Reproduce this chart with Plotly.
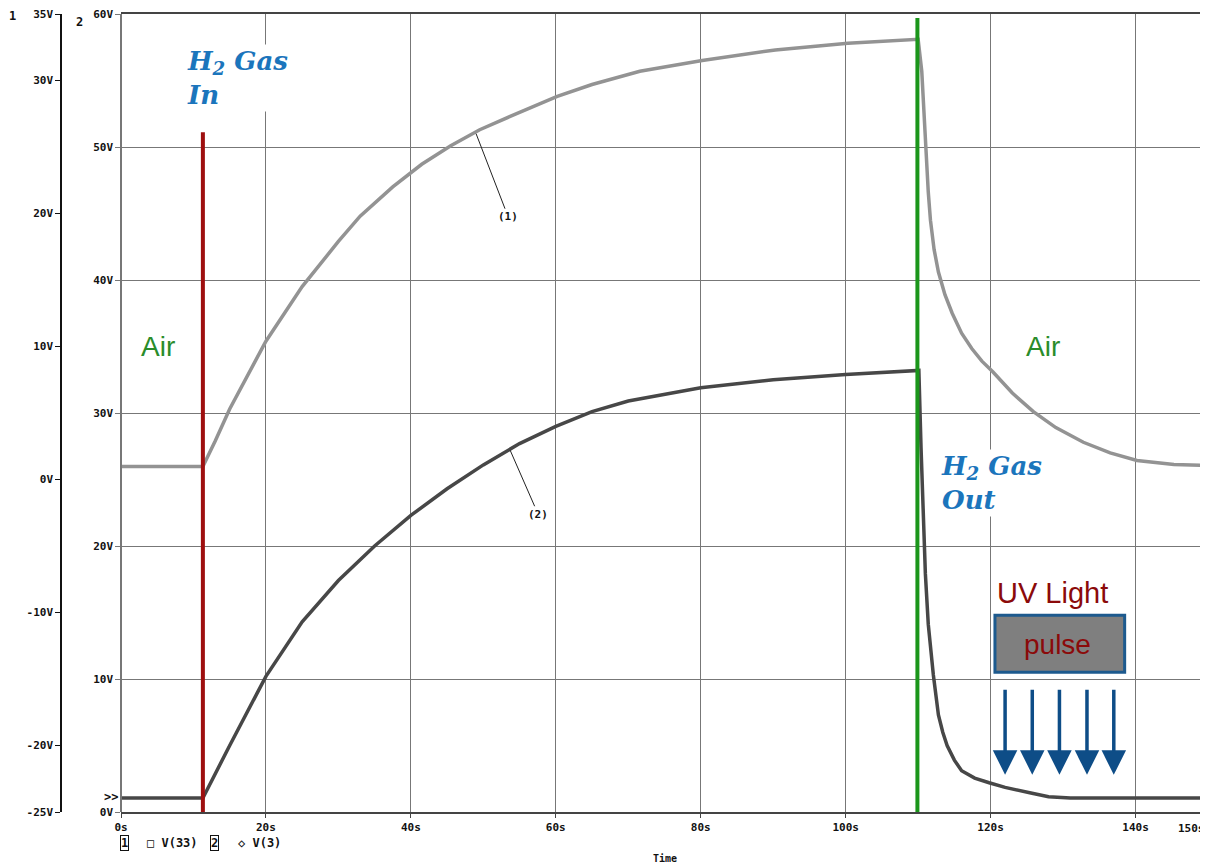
import plotly.graph_objects as go

# ---------------- data ----------------
# Trace 1 : V(33) on axis 1 (outer axis, -25 V .. 35 V)
T_V33 = [0, 11.3, 13.0, 15.0, 20.0, 25.0, 30.0, 33.0, 37.5, 41.5, 45.5, 49.5, 53.7, 60.2, 65.0,
         71.6, 80.2, 90.3, 100.3, 110.0, 110.5, 111.0, 111.4, 111.7, 112.2, 112.8, 113.7, 114.7,
         116.0, 117.4, 118.8, 120.3, 123.0, 125.9, 129.0, 132.8, 136.5, 140.2, 145.3, 150.0]
V33 = [0.98, 0.98, 2.9, 5.3, 10.4, 14.5, 17.9, 19.8, 22.0, 23.7, 25.1, 26.3, 27.3, 28.8, 29.7,
       30.7, 31.5, 32.3, 32.8, 33.1, 30.7, 25.0, 21.6, 19.5, 17.3, 15.6, 13.9, 12.5,
       11.0, 9.85, 8.9, 8.1, 6.5, 5.1, 3.9, 2.8, 2.0, 1.43, 1.13, 1.05]

# Trace 2 : V(3) on axis 2 (inner axis, 0 V .. 60 V)
T_V3 = [0, 11.3, 15, 20, 25, 30, 35, 40, 45, 50, 55, 60, 65, 70, 80, 90, 100, 110.1, 110.4,
        110.7, 111.0, 111.4, 112.1, 112.8, 113.4, 114.0, 115.0, 116.0, 117.8, 119.8, 122.0,
        125.4, 128.0, 131.0, 150]
V3 = [1.05, 1.05, 5.0, 10.2, 14.3, 17.4, 20.0, 22.3, 24.3, 26.1, 27.7, 29.0, 30.1, 30.9, 31.9,
      32.5, 32.9, 33.2, 27.4, 21.65, 17.9, 14.1, 10.3, 7.3, 6.0, 5.0, 3.9, 3.1, 2.55, 2.2, 1.85,
      1.45, 1.15, 1.05, 1.05]

TRACE_NAMES = ["V(33)", "V(3)"]

X_TICKS = [0, 20, 40, 60, 80, 100, 120, 140]
X_TICK_LABELS = ["0s", "20s", "40s", "60s", "80s", "100s", "120s", "140s"]
X_END_LABEL = "150s"

AX2_TICKS = [0, 10, 20, 30, 40, 50, 60]
AX2_LABELS = ["0V", "10V", "20V", "30V", "40V", "50V", "60V"]
AX1_TICKS = [-25, -20, -10, 0, 10, 20, 30, 35]
AX1_LABELS = ["-25V", "-20V", "-10V", "0V", "10V", "20V", "30V", "35V"]

H2_IN_TIME = 11.3
H2_OUT_TIME = 109.9
UV_ARROW_TIMES = [122.0, 125.75, 129.5, 133.3, 137.0]

# ---------------- geometry (page pixels; the page body has an 8px margin) ----------------
OFF = 8
W, H = 1208 - OFF, 863 - OFF
PLOT_TOP, PLOT_BOTTOM = 14, 812     # page pixels
X0_PIX = 121                         # page pixel of inner axis


def px(x):
    return (x - OFF) / W


def py(y):
    return (PLOT_BOTTOM - y) / (PLOT_BOTTOM - PLOT_TOP)


TICK_FONT = dict(family="DejaVu Sans Mono", size=11, color="#111", weight="bold")
BLUE_T = "#1b75bc"
GREEN_T = "#2a8c2a"
RED_T = "#8b0a0a"

fig = go.Figure()
fig.add_trace(go.Scatter(x=T_V33, y=V33, yaxis="y2", mode="lines", name=TRACE_NAMES[0],
                         line=dict(color="#939393", width=3.5)))
fig.add_trace(go.Scatter(x=T_V3, y=V3, yaxis="y", mode="lines", name=TRACE_NAMES[1],
                         line=dict(color="#474747", width=3.5)))

fig.update_layout(
    width=W, height=H,
    margin=dict(l=0, r=0, t=PLOT_TOP - OFF, b=H - (PLOT_BOTTOM - OFF), pad=0, autoexpand=False),
    paper_bgcolor="white", plot_bgcolor="white",
    showlegend=False,
    xaxis=dict(domain=[px(X0_PIX), 1], range=[0, 150], tickvals=X_TICKS, ticktext=X_TICK_LABELS,
               showgrid=True, gridcolor="#777", gridwidth=1, zeroline=False, automargin=False,
               showline=True, linecolor="#444", linewidth=1.5, mirror=True,
               ticks="outside", ticklen=4, tickcolor="#444", tickfont=TICK_FONT,
               ticklabeloverflow="allow"),
    yaxis=dict(range=[0, 60], tickvals=AX2_TICKS, ticktext=AX2_LABELS, anchor="free",
               position=px(X0_PIX), showgrid=True, gridcolor="#777", gridwidth=1, zeroline=False,
               automargin=False, ticklabeloverflow="allow",
               showline=True, linecolor="#777", linewidth=1.5, ticks="outside", ticklen=5,
               tickcolor="#777", tickfont=TICK_FONT),
    yaxis2=dict(range=[-25, 35], tickvals=AX1_TICKS, ticktext=AX1_LABELS, anchor="free",
                overlaying="y", side="left", position=px(61), showgrid=False, zeroline=False,
                automargin=False, ticklabeloverflow="allow",
                showline=True, linecolor="#111", linewidth=1.5, ticks="outside", ticklen=5,
                tickcolor="#111", tickfont=TICK_FONT),
)

# event lines
fig.add_shape(type="line", x0=H2_IN_TIME, x1=H2_IN_TIME, y0=0, y1=51.1, xref="x", yref="y",
              line=dict(color="#9e0f0f", width=4))
fig.add_shape(type="line", x0=H2_OUT_TIME, x1=H2_OUT_TIME, y0=0, y1=59.7, xref="x", yref="y",
              line=dict(color="#1b961b", width=4))

ann = []
# H2 gas labels
h2_font = dict(family="DejaVu Serif", size=26, color=BLUE_T)
ann.append(dict(x=8.8, y=55.2, xref="x", yref="y", xanchor="left", yanchor="middle", align="left",
                text="<b><i>H<sub>2</sub> Gas<br>In</i></b>", showarrow=False, font=h2_font,
                bgcolor="white"))
ann.append(dict(x=112.9, y=24.7, xref="x", yref="y", xanchor="left", yanchor="middle", align="left",
                text="<b><i>H<sub>2</sub> Gas<br>Out</i></b>", showarrow=False, font=h2_font,
                bgcolor="white"))
# Air labels
air_font = dict(family="Liberation Sans", size=28, color=GREEN_T)
ann.append(dict(x=5.1, y=35.0, xref="x", yref="y", text="Air", showarrow=False, font=air_font))
ann.append(dict(x=127.2, y=35.0, xref="x", yref="y", text="Air", showarrow=False, font=air_font))

# UV light pulse box
fig.add_shape(type="rect", x0=120.6, x1=138.5, y0=10.5, y1=14.8, xref="x", yref="y",
              fillcolor="#7f7f7f", line=dict(color="#1d5a8e", width=3))
ann.append(dict(x=128.6, y=16.5, xref="x", yref="y", text="UV Light", showarrow=False,
                font=dict(family="Liberation Sans", size=29, color=RED_T)))
ann.append(dict(x=129.3, y=12.6, xref="x", yref="y", text="pulse", showarrow=False,
                font=dict(family="Liberation Sans", size=28, color=RED_T)))
for t in UV_ARROW_TIMES:
    ann.append(dict(x=t, y=2.8, xref="x", yref="y", ax=t, ay=9.3, axref="x", ayref="y",
                    text="", showarrow=True, arrowhead=2, arrowsize=1.4, arrowwidth=3.5,
                    arrowcolor="#0e4d87"))

# curve labels
lab_font = dict(family="DejaVu Sans Mono", size=11, color="#111", weight="bold")
ann.append(dict(x=49.0, y=26.0, xref="x", yref="y2", ax=32, ay=83, text="(1)", showarrow=True,
                arrowhead=0, arrowwidth=1, arrowcolor="#222", font=lab_font, standoff=0))
ann.append(dict(x=53.7, y=27.2, xref="x", yref="y", ax=28, ay=64, text="(2)", showarrow=True,
                arrowhead=0, arrowwidth=1, arrowcolor="#222", font=lab_font, standoff=0))


def label(x, y, text, font, **kw):
    d = dict(x=px(x), y=py(y), xref="paper", yref="paper", text=text, showarrow=False,
             xanchor="center", yanchor="middle", font=font)
    d.update(kw)
    ann.append(d)


num_font = dict(family="DejaVu Sans Mono", size=12, color="#111", weight="bold")
label(12, 16, "1", num_font)
label(79, 22, "2", num_font)
label(111, 797, "&gt;&gt;", num_font)
label(1207, 828, X_END_LABEL, TICK_FONT, xanchor="right")
label(665, 858, "Time", dict(family="DejaVu Sans Mono", size=10, color="#111", weight="bold"))
# legend row
leg_font = dict(family="DejaVu Sans Mono", size=12, color="#111", weight="bold")
label(124, 843, "1", leg_font, bordercolor="#111", borderwidth=1, borderpad=0)
label(145, 843, "\u25a1 " + TRACE_NAMES[0], leg_font, xanchor="left")
label(214, 843, "2", leg_font, bordercolor="#111", borderwidth=1, borderpad=0)
label(236, 843, "\u25c7 " + TRACE_NAMES[1], leg_font, xanchor="left")

fig.update_layout(annotations=ann)
fig.write_html("out.html")
